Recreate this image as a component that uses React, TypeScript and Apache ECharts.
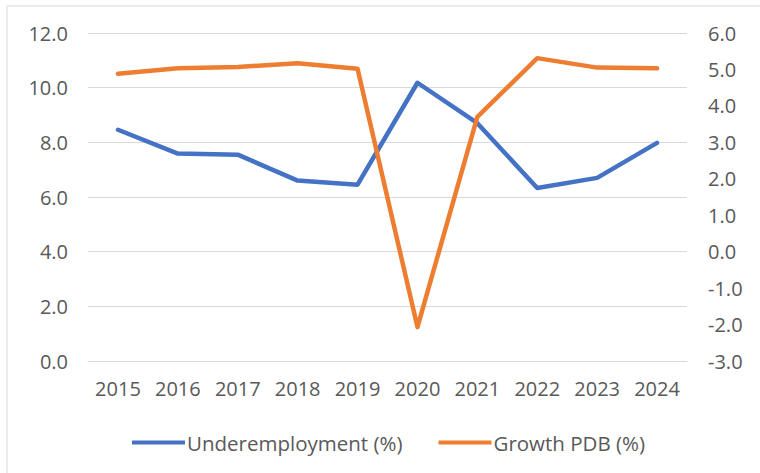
import React, { useEffect, useRef } from "react";
import * as echarts from "echarts";

const years = ["2015", "2016", "2017", "2018", "2019", "2020", "2021", "2022", "2023", "2024"];
const underemployment = [8.46, 7.59, 7.55, 6.6, 6.45, 10.18, 8.7, 6.33, 6.7, 7.98];
const growthPdb = [4.88, 5.03, 5.07, 5.17, 5.02, -2.07, 3.7, 5.31, 5.05, 5.03];
const seriesNames = ["Underemployment (%)", "Growth PDB (%)"];

const FONT = "'Open Sans', 'Liberation Sans', sans-serif";
const TEXT = "#595959";

export default function App() {
  const ref = useRef<HTMLDivElement>(null);
  useEffect(() => {
    if (!ref.current) return;
    const chart = echarts.init(ref.current, undefined, { renderer: "svg" });
    chart.setOption({
      animation: false,
      backgroundColor: "#ffffff",
      textStyle: { fontFamily: FONT },
      graphic: [
        {
          type: "rect",
          shape: { x: 7, y: 6, width: 800, height: 500 },
          style: { fill: "none", stroke: "#d9d9d9", lineWidth: 1 },
          silent: true,
          z: -1,
        },
      ],
      grid: { left: 88, right: 73, top: 33, bottom: 112, containLabel: false },
      legend: {
        data: seriesNames,
        left: 127,
        top: 427,
        itemWidth: 53,
        itemHeight: 4,
        itemGap: 36,
        icon: "rect",
        textStyle: { color: TEXT, fontSize: 20.5, fontFamily: FONT, padding: [0, 0, 0, -3] },
      },
      xAxis: {
        type: "category",
        data: years,
        boundaryGap: true,
        axisLine: { show: true, lineStyle: { color: "#d9d9d9", width: 1 } },
        axisTick: { show: false },
        axisLabel: { color: TEXT, fontSize: 20, margin: 17, fontFamily: FONT },
      },
      yAxis: [
        {
          type: "value",
          min: 0,
          max: 12,
          interval: 2,
          axisLine: { show: false },
          axisTick: { show: false },
          splitLine: { show: true, lineStyle: { color: "#d9d9d9", width: 1 } },
          axisLabel: {
            color: TEXT,
            fontSize: 20,
            margin: 20,
            fontFamily: FONT,
            formatter: (v: number) => v.toFixed(1),
          },
        },
        {
          type: "value",
          min: -3,
          max: 6,
          interval: 1,
          position: "right",
          axisLine: { show: false },
          axisTick: { show: false },
          splitLine: { show: false },
          axisLabel: {
            color: TEXT,
            fontSize: 20,
            margin: 21,
            fontFamily: FONT,
            formatter: (v: number) => v.toFixed(1),
          },
        },
      ],
      series: [
        {
          name: seriesNames[0],
          type: "line",
          data: underemployment,
          yAxisIndex: 0,
          symbol: "none",
          color: "#4472C4",
          lineStyle: { width: 4.5, color: "#4472C4", join: "round", cap: "round" },
        },
        {
          name: seriesNames[1],
          type: "line",
          data: growthPdb,
          yAxisIndex: 1,
          symbol: "none",
          color: "#ED7D31",
          lineStyle: { width: 4.5, color: "#ED7D31", join: "round", cap: "round" },
        },
      ],
    });
    return () => chart.dispose();
  }, []);
  return (
    <div
      ref={ref}
      style={{ position: "fixed", left: 0, top: 0, width: 760, height: 473 }}
    />
  );
}
